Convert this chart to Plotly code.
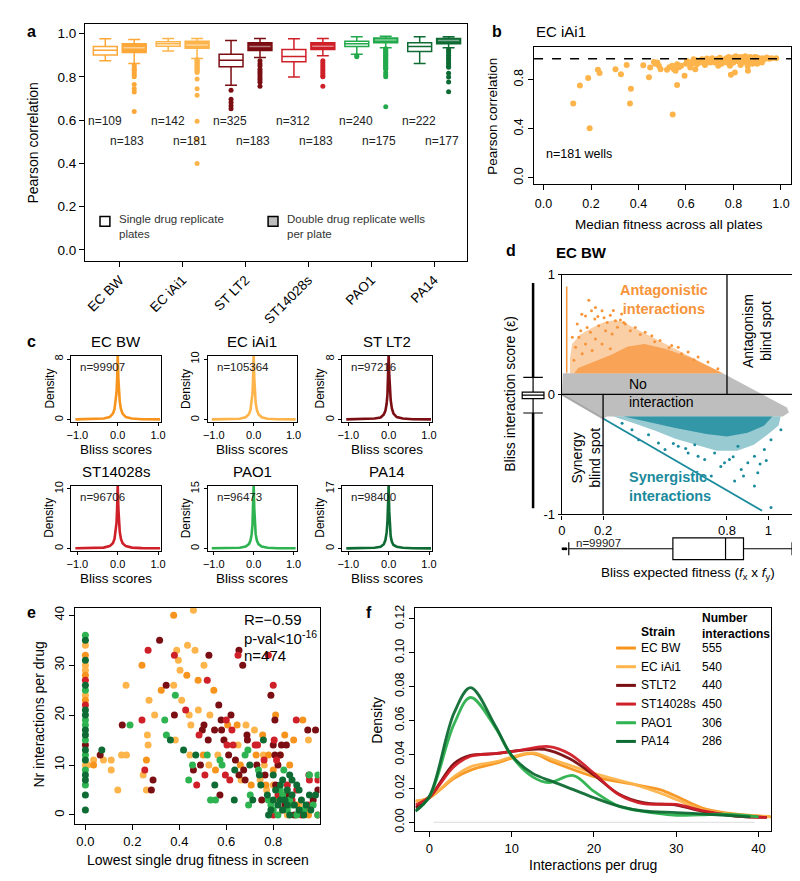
import plotly.graph_objects as go

W, H = 800, 881
FONT = "Liberation Sans, Arial, Helvetica, sans-serif"

# ======================= DATA =======================
strains = ["EC BW", "EC iAi1", "ST LT2", "ST14028s", "PAO1", "PA14"]
box_colors = ["#FBA839", "#FDB44B", "#7A0E12", "#CF2029", "#22A94B", "#0E6B33"]
strain_colors = ["#F7941D", "#FDB44B", "#7A0E12", "#CF2029", "#2DB34F", "#0E6B33"]

# panel a: [lower whisker, Q1, median, Q3, upper whisker]
single_stats = [
    [0.874, 0.901, 0.923, 0.940, 0.976],
    [0.920, 0.942, 0.953, 0.962, 0.977],
    [0.761, 0.847, 0.877, 0.905, 0.968],
    [0.799, 0.870, 0.894, 0.927, 0.976],
    [0.905, 0.940, 0.953, 0.965, 0.985],
    [0.862, 0.917, 0.940, 0.958, 0.985],
]
double_stats = [
    [0.862, 0.912, 0.935, 0.953, 0.973],
    [0.885, 0.932, 0.947, 0.965, 0.977],
    [0.889, 0.922, 0.940, 0.958, 0.977],
    [0.897, 0.927, 0.942, 0.958, 0.977],
    [0.935, 0.958, 0.970, 0.980, 0.988],
    [0.935, 0.953, 0.968, 0.977, 0.985],
]
single_out = [[], [], [0.738, 0.697, 0.682, 0.667, 0.653], [], [0.897, 0.893], []]
double_out = [
    [0.855, 0.845, 0.835, 0.830, 0.820, 0.810, 0.800, 0.765, 0.745, 0.730, 0.640],
    [0.880, 0.875, 0.870, 0.865, 0.860, 0.855, 0.850, 0.845, 0.840, 0.835, 0.830, 0.825, 0.820,
     0.790, 0.745, 0.715, 0.595, 0.510, 0.400],
    [0.875, 0.860, 0.850, 0.835, 0.825, 0.815, 0.805, 0.795, 0.785, 0.775, 0.757],
    [0.875, 0.865, 0.855, 0.845, 0.835, 0.825, 0.815, 0.805, 0.800, 0.756],
    [0.930, 0.925, 0.920, 0.915, 0.910, 0.905, 0.900, 0.895, 0.890, 0.885, 0.880, 0.875, 0.870,
     0.865, 0.860, 0.855, 0.850, 0.845, 0.840, 0.835, 0.820, 0.810, 0.800, 0.662],
    [0.927, 0.920, 0.910, 0.900, 0.890, 0.880, 0.870, 0.860, 0.850, 0.844, 0.817, 0.799, 0.776, 0.731],
]
single_n = [109, 142, 325, 312, 240, 222]
double_n = [183, 181, 183, 183, 175, 177]

# panel b: EC iAi1 wells
b_fit = [0.125, 0.153, 0.188, 0.194, 0.229, 0.236, 0.303, 0.326, 0.350, 0.364, 0.368, 0.420, 0.444,
         0.449, 0.465, 0.479, 0.486, 0.493, 0.542, 0.544, 0.549, 0.556, 0.563, 0.5625, 0.580, 0.594,
         0.604, 0.618, 0.625, 0.632, 0.639, 0.646, 0.653, 0.667, 0.681, 0.688, 0.701, 0.715, 0.729,
         0.736, 0.743, 0.750, 0.785, 0.789, 0.806, 0.861,
         0.76, 0.77, 0.78, 0.78, 0.79, 0.80, 0.80, 0.81, 0.81, 0.82, 0.82, 0.83, 0.83, 0.84, 0.84,
         0.85, 0.85, 0.86, 0.86, 0.87, 0.87, 0.88, 0.88, 0.89, 0.89, 0.90, 0.90, 0.91, 0.92, 0.93,
         0.94, 0.95, 0.96, 0.98, 0.77, 0.79, 0.83, 0.86, 0.90, 0.92, 0.70, 0.72, 0.74, 0.66, 0.68,
         0.62, 0.64, 0.60, 0.57, 0.53, 0.47, 0.52, 0.71, 0.73, 0.75, 0.845, 0.815, 0.835, 0.875, 0.895]
b_cor = [0.605, 0.752, 0.813, 0.405, 0.880, 0.853, 0.885, 0.843, 0.920, 0.605, 0.725, 0.917, 0.819,
         0.899, 0.944, 0.939, 0.912, 0.885, 0.912, 0.517, 0.885, 0.872, 0.925, 0.757, 0.912, 0.832,
         0.952, 0.899, 0.931, 0.965, 0.885, 0.925, 0.952, 0.965, 0.952, 0.973, 0.939, 0.957, 0.965,
         0.912, 0.979, 0.952, 0.912, 0.840, 0.859, 0.872,
         0.960, 0.975, 0.950, 0.985, 0.965, 0.940, 0.980, 0.960, 0.990, 0.950, 0.975, 0.985, 0.960,
         0.940, 0.970, 0.990, 0.955, 0.975, 0.940, 0.985, 0.960, 0.970, 0.930, 0.985, 0.950, 0.965,
         0.980, 0.955, 0.975, 0.965, 0.980, 0.970, 0.975, 0.975, 0.940, 0.930, 0.920, 0.910, 0.930,
         0.940, 0.960, 0.940, 0.970, 0.940, 0.920, 0.940, 0.960, 0.930, 0.900, 0.900, 0.930, 0.880,
         0.975, 0.950, 0.930, 0.985, 0.975, 0.950, 0.975, 0.970]
b_threshold = 0.97

# panel c: Bliss score densities
c_x = [-1.05, -0.6, -0.35, -0.2, -0.12, -0.08, -0.05, -0.03, -0.015, 0.0, 0.015, 0.03, 0.05, 0.08,
       0.12, 0.2, 0.35, 0.6, 1.05]
c_ecbw = [0.05, 0.07, 0.15, 0.35, 0.8, 1.4, 2.4, 3.6, 5.5, 8.6, 5.5, 3.6, 2.4, 1.4, 0.8, 0.35, 0.15, 0.07, 0.05]
c_ecia = [0.05, 0.07, 0.15, 0.4, 0.9, 1.6, 2.8, 4.3, 6.8, 10.8, 6.8, 4.3, 2.8, 1.6, 0.9, 0.4, 0.15, 0.07, 0.05]
c_stlt2 = [0.05, 0.07, 0.15, 0.3, 0.7, 1.2, 2.1, 3.3, 5.2, 8.6, 6.0, 4.0, 2.6, 1.5, 0.8, 0.35, 0.15, 0.07, 0.05]
c_st14 = [0.05, 0.07, 0.15, 0.4, 0.9, 1.6, 2.8, 4.3, 6.8, 10.8, 6.8, 4.3, 2.8, 1.6, 0.9, 0.4, 0.15, 0.07, 0.05]
c_pao1 = [0.05, 0.08, 0.2, 0.5, 1.1, 2.0, 3.6, 6.0, 10.0, 16.0, 10.0, 6.0, 3.6, 2.0, 1.1, 0.5, 0.2, 0.08, 0.05]
c_pa14 = [0.05, 0.08, 0.2, 0.5, 1.2, 2.4, 4.5, 7.5, 12.5, 18.0, 10.5, 6.0, 3.5, 1.9, 1.0, 0.5, 0.2, 0.08, 0.05]
c_n = [99907, 105364, 97216, 96706, 96473, 98400]
c_ymax = [8, 10, 8, 10, 15, 17]

# panel d: EC BW Bliss landscape (cloud outlines and sparse points)
gray_w = [0.005, 0.78, 1.09, 1.10, 1.07, 0.22, 0.20, 0.0]
gray_eps = [0.176, 0.176, -0.11, -0.15, -0.185, -0.185, -0.20, 0.0]
ant_outer_w = [0.04, 0.78, 0.30, 0.26, 0.20, 0.14, 0.09, 0.05, 0.04]
ant_outer_eps = [0.176, 0.176, 0.60, 0.62, 0.60, 0.55, 0.50, 0.42, 0.30]
ant_core_w = [0.06, 0.78, 0.62, 0.50, 0.40, 0.32, 0.24, 0.15, 0.08]
ant_core_eps = [0.176, 0.176, 0.31, 0.38, 0.42, 0.40, 0.33, 0.27, 0.22]
ant_pts_w = [0.131, 0.097, 0.115, 0.144, 0.163, 0.195, 0.16, 0.075, 0.051, 0.092, 0.123, 0.139, 0.179,
             0.212, 0.244, 0.26, 0.284, 0.308, 0.332, 0.356, 0.404, 0.436, 0.476, 0.532, 0.564, 0.612,
             0.66, 0.708, 0.756, 0.067, 0.099, 0.147, 0.059, 0.195, 0.235, 0.163, 0.115, 0.083, 0.30,
             0.38, 0.45, 0.52, 0.58, 0.64, 0.22, 0.27, 0.235, 0.205, 0.175, 0.25, 0.29]
ant_pts_eps = [0.785, 0.669, 0.655, 0.697, 0.724, 0.697, 0.628, 0.587, 0.476, 0.532, 0.559, 0.518,
               0.573, 0.532, 0.504, 0.614, 0.62, 0.587, 0.532, 0.559, 0.518, 0.49, 0.449, 0.408, 0.394,
               0.353, 0.312, 0.27, 0.215, 0.394, 0.339, 0.366, 0.284, 0.421, 0.38, 0.462, 0.421, 0.476,
               0.60, 0.50, 0.44, 0.39, 0.34, 0.29, 0.60, 0.56, 0.66, 0.64, 0.65, 0.70, 0.67]
ant_streak_w = [0.024, 0.024]
ant_streak_eps = [0.18, 0.90]
syn_outer_w = [0.25, 1.06, 1.05, 1.00, 0.93, 0.85, 0.75, 0.65, 0.55, 0.45, 0.35]
syn_outer_eps = [-0.185, -0.185, -0.26, -0.33, -0.42, -0.47, -0.47, -0.42, -0.37, -0.30, -0.24]
syn_core_w = [0.30, 1.02, 0.98, 0.90, 0.80, 0.70, 0.55, 0.42]
syn_core_eps = [-0.185, -0.185, -0.26, -0.32, -0.35, -0.33, -0.28, -0.23]
syn_pts_w = [0.34, 0.372, 0.468, 0.5, 0.564, 0.612, 0.66, 0.692, 0.74, 0.788, 0.812, 0.837, 0.869,
             0.901, 0.933, 0.949, 0.981, 1.013, 1.061, 1.013, 0.933, 0.724, 0.42, 0.292, 0.853, 0.644,
             0.77, 0.83, 0.88, 0.96, 0.99, 0.60, 0.54]
syn_pts_eps = [-0.295, -0.378, -0.405, -0.46, -0.433, -0.488, -0.515, -0.543, -0.488, -0.57, -0.543,
               -0.722, -0.626, -0.57, -0.515, -0.653, -0.46, -0.378, -0.295, -0.942, -0.763, -0.68,
               -0.337, -0.24, -0.433, -0.42, -0.60, -0.52, -0.68, -0.58, -0.55, -0.45, -0.41]
syn_line_w = [0.2, 0.97]
syn_line_eps = [-0.2, -0.97]
gray_line_w = [0.0, 0.2]
gray_line_eps = [0.0, -0.2]
d_split_w = [0.2, 0.8]
eps_box = [-0.155, -0.035, -0.005, 0.02, 0.143]
eps_out_hi = [0.143, 0.93]
eps_out_lo = [-0.155, -0.95]
fit_box = [0.034, 0.538, 0.793, 0.88, 1.115]
fit_out = [0.0, 0.01, 0.02]
d_n = 99907

# panel e: lowest single drug fitness vs interactions per drug
e_ecbw_x = [0, 0, 0, 0.035, 0.241, 0.26, 0.323, 0.376, 0.432, 0.48, 0.502, 0.547, 0.554, 0.606, 0.646,
            0.66, 0.706, 0.727, 0.755, 0.769, 0.78, 0.80, 0.81, 0.849, 0.85, 0.87, 0.887, 0.90, 0.926, 0.95]
e_ecbw_y = [32, 28, 23, 10, 30, 11, 25, 40, 28, 27, 12, 25, 9, 18, 18, 10, 6, 12, 16, 6, 12, 9, 20, 16,
            4, 10, 15, 2, 19, 0]
e_ecia_x = [0, 0, 0, 0, 0, 0.01, 0.035, 0.077, 0.11, 0.11, 0.138, 0.154, 0.173, 0.175, 0.246, 0.264,
            0.267, 0.26, 0.271, 0.295, 0.376, 0.383, 0.389, 0.396, 0.403, 0.41, 0.435, 0.442, 0.445,
            0.449, 0.46, 0.467, 0.481, 0.505, 0.526, 0.53, 0.564, 0.65, 0.663, 0.684, 0.72, 0.744,
            0.758, 0.762, 0.772, 0.80, 0.82, 0.83, 0.86, 0.91, 0.94, 0.95]
e_ecia_y = [34, 30, 29, 24, 10, 10, 11, 11, 11, 9, 5, 12, 26, 12, 8, 16, 14, 5, 23, 20, 26, 15, 33, 31,
            29, 23, 34, 20, 12, 18, 41, 33, 21, 30, 10, 20, 12, 14, 7, 18, 17, 7, 12, 10, 5, 6, 3, 12,
            0, 2, 1, 15]
e_stlt2_x = [0, 0.063, 0.157, 0.281, 0.288, 0.316, 0.344, 0.379, 0.46, 0.49, 0.498, 0.505, 0.523,
             0.526, 0.55, 0.568, 0.573, 0.578, 0.58, 0.59, 0.61, 0.62, 0.639, 0.654, 0.654, 0.67,
             0.674, 0.68, 0.688, 0.69, 0.73, 0.751, 0.765, 0.79, 0.807, 0.80, 0.807, 0.83, 0.82,
             0.835, 0.856, 0.947, 0.952, 0.98, 0.85, 0.89, 0.93, 0.97, 0.81, 0.86, 0.99]
e_stlt2_y = [14, 12, 18, 5, 7, 35, 26, 20, 9, 10, 17, 18, 15, 32, 17, 22, 4, 19, 17, 15, 12, 20, 11,
             33, 8, 30, 9, 7, 16, 15, 10, 3, 8, 24, 19, 14, 12, 12, 10, 14, 14, 17, 8, 17, 2, 0, 1,
             3, 6, 4, 5]
e_st14_x = [0, 0, 0.241, 0.253, 0.267, 0.379, 0.427, 0.474, 0.484, 0.509, 0.519, 0.596, 0.60, 0.603,
            0.615, 0.624, 0.629, 0.65, 0.723, 0.733, 0.761, 0.779, 0.80, 0.804, 0.814, 0.898, 0.954,
            0.99, 0.99, 0.84, 0.88, 0.92, 0.95, 0.82, 0.86, 0.80, 0.90]
e_st14_y = [27, 22, 19, 9, 33, 32, 21, 6, 16, 8, 27, 8, 19, 14, 7, 17, 14, 32, 14, 14, 11, 32, 26, 15,
            11, 19, 7, 7, 0, 1, 3, 0, 2, 4, 6, 0, 5]
e_pao1_x = [0, 0, 0, 0, 0, 0, 0, 0, 0.19, 0.338, 0.345, 0.383, 0.44, 0.456, 0.519, 0.533, 0.554, 0.573,
            0.582, 0.68, 0.692, 0.695, 0.702, 0.737, 0.779, 0.845, 0.954, 0.80, 0.82, 0.86, 0.88,
            0.90, 0.93, 0.97, 0.99, 0.83, 0.87, 0.99, 0.79, 0.84]
e_pao1_y = [36, 25, 19, 18, 15, 12, 9, 6, 18, 19, 16, 24, 7, 10, 12, 3, 3, 11, 10, 12, 13, 2, 4, 9, 3,
            9, 8, 1, 0, 1, 2, 0, 1, 2, 0, 5, 3, 8, 2, 4]
e_pa14_x = [0, 0, 0, 0, 0, 0, 0, 0, 0, 0, 0, 0, 0, 0.07, 0.362, 0.418, 0.47, 0.551, 0.634, 0.636, 0.70,
            0.713, 0.741, 0.747, 0.758, 0.775, 0.88, 0.954, 0.78, 0.80, 0.81, 0.82, 0.83, 0.84, 0.85,
            0.86, 0.87, 0.88, 0.89, 0.90, 0.91, 0.92, 0.93, 0.94, 0.96, 0.98, 0.80, 0.84, 0.87, 0.91,
            0.79, 0.83, 0.86]
e_pa14_y = [35, 31, 26, 21, 20, 17, 16, 13, 11, 8, 7, 4, 1, 13, 15, 13, 12, 6, 3, 9, 10, 3, 8, 6, 15,
            4, 7, 4, 0, 3, 5, 2, 6, 1, 3, 5, 0, 4, 2, 6, 1, 3, 0, 2, 1, 4, 8, 7, 8, 5, 1, 3, 2]
e_stats = ["R=\u22120.59", "p-val&lt;10<sup>-16</sup>", "n=474"]

# panel f: density of interactions per drug
f_names = ["EC BW", "EC iAi1", "STLT2", "ST14028s", "PAO1", "PA14"]
f_counts = [555, 540, 440, 450, 306, 286]
f_ecbw_x = [-1.7, 0, 3, 5, 8, 12.5, 15, 20, 25, 28, 30, 33, 36, 41.5]
f_ecbw_y = [0.0125, 0.0145, 0.026, 0.0308, 0.0347, 0.0405, 0.0356, 0.027, 0.0222, 0.0193, 0.0154,
            0.0087, 0.0056, 0.0033]
f_ecia_x = [-1.7, 0, 3, 5, 8, 12.5, 15, 20, 25, 28, 30, 33, 36, 41.5]
f_ecia_y = [0.0125, 0.0145, 0.027, 0.0328, 0.0356, 0.041, 0.037, 0.0289, 0.0222, 0.0173, 0.0135,
            0.0077, 0.0052, 0.0033]
f_stlt2_x = [-1.7, 0, 3, 5, 8, 11, 14, 17, 20, 23, 26, 30, 33, 37, 41]
f_stlt2_y = [0.0087, 0.0145, 0.0347, 0.0395, 0.0405, 0.0424, 0.043, 0.0376, 0.0279, 0.0168, 0.0116,
             0.0102, 0.0067, 0.0039, 0.0029]
f_st14_x = [-1.7, 0, 3, 5, 8, 11, 14.5, 17, 20, 23, 26, 30, 33, 37, 41]
f_st14_y = [0.0102, 0.015, 0.033, 0.039, 0.0405, 0.0424, 0.0447, 0.0405, 0.0289, 0.0164, 0.011,
            0.0106, 0.0071, 0.0039, 0.0029]
f_pao1_x = [-1.7, 0, 3, 5, 8, 10, 12.5, 14.5, 17.5, 20, 23, 26, 28, 30, 33, 36, 40]
f_pao1_y = [0.0067, 0.015, 0.058, 0.0736, 0.056, 0.039, 0.027, 0.0235, 0.0276, 0.0183, 0.0096,
            0.0065, 0.0052, 0.0042, 0.0045, 0.0048, 0.0033]
f_pa14_x = [-1.7, 0, 3, 5, 8, 10, 12.5, 15, 17.5, 20, 23, 26, 30, 33, 36, 39]
f_pa14_y = [0.0067, 0.0154, 0.0645, 0.0794, 0.057, 0.0395, 0.029, 0.024, 0.0193, 0.0145, 0.0096,
            0.0067, 0.0058, 0.005, 0.0042, 0.0033]
f_base_x = [0.5, 39.5]
f_base_y = [0, 0]


# ======================= HELPERS =======================
def xd(l, r):
    return [l / W, r / W]


def yd(t, b):
    return [1 - b / H, 1 - t / H]


def px(x):
    return x / W


def py(y):
    return 1 - y / H


def frame_axis(domain, anchor, rng, **kw):
    d = dict(domain=domain, anchor=anchor, range=rng, showline=True, mirror=True,
             linecolor="black", linewidth=1.3, ticks="outside", ticklen=4, tickwidth=1.2,
             tickcolor="black", showgrid=False, zeroline=False, fixedrange=True,
             tickfont=dict(size=12, color="#111"))
    d.update(kw)
    return d


def hidden_axis(domain, anchor, rng):
    return dict(domain=domain, anchor=anchor, range=rng, visible=False, fixedrange=True,
                showgrid=False, zeroline=False, showticklabels=False)


annotations = []
shapes = []


def ann(text, x, y, size=12, xanchor="center", yanchor="middle", color="black", angle=0,
        bold=False, align="center", xref="paper", yref="paper"):
    if bold:
        text = "<b>" + text + "</b>"
    annotations.append(dict(text=text, x=px(x) if xref == "paper" else x,
                            y=py(y) if yref == "paper" else y, xref=xref, yref=yref,
                            xanchor=xanchor, yanchor=yanchor, showarrow=False, textangle=angle,
                            align=align, font=dict(size=size, color=color, family=FONT)))


traces = []
layout = dict(width=W, height=H, margin=dict(l=0, r=0, t=0, b=0), paper_bgcolor="white",
              plot_bgcolor="white", showlegend=False, boxmode="overlay",
              font=dict(family=FONT, size=12, color="black"))

# ======================= PANEL A =======================
layout["xaxis"] = frame_axis(xd(73, 459), "y", [0.45, 6.52], tickvals=list(range(1, 7)),
                             ticktext=strains, tickangle=-45, tickfont=dict(size=13.5), ticklen=5)
layout["yaxis"] = frame_axis(yd(9, 250), "x", [-0.05, 1.045], tickvals=[0, 0.2, 0.4, 0.6, 0.8, 1.0],
                             ticktext=["0.0", "0.2", "0.4", "0.6", "0.8", "1.0"],
                             tickfont=dict(size=13.5), ticklen=5)
BW = 0.38
for i, s in enumerate(strains):
    c = box_colors[i]
    for stats, outs, off, filled in ((single_stats[i], single_out[i], -0.23, False),
                                     (double_stats[i], double_out[i], 0.23, True)):
        pos = i + 1 + off
        lf, q1, med, q3, uf = stats
        traces.append(go.Box(x=[pos], lowerfence=[lf], q1=[q1], median=[med], q3=[q3],
                             upperfence=[uf], width=BW, orientation="v", boxpoints=False,
                             whiskerwidth=0.5, fillcolor=c if filled else "white",
                             line=dict(color=c, width=1.5), xaxis="x", yaxis="y",
                             hoverinfo="skip"))
        if filled:
            traces.append(go.Scatter(x=[pos - BW / 2 + 0.02, pos + BW / 2 - 0.02], y=[med, med],
                                     mode="lines", line=dict(color="rgba(255,255,255,0.45)", width=1.5),
                                     xaxis="x", yaxis="y", hoverinfo="skip"))
        if outs:
            traces.append(go.Scatter(x=[pos] * len(outs), y=outs, mode="markers",
                                     marker=dict(size=5, color=c), xaxis="x", yaxis="y",
                                     hoverinfo="skip"))
    ann("n=%d" % single_n[i], i + 1 - 0.24, 0.595, size=12, color="#222", xref="x", yref="y")
    ann("n=%d" % double_n[i], i + 1 + 0.12, 0.505, size=12, color="#222", xref="x", yref="y")

ann("Pearson correlation", 20, 130, size=14, angle=-90)
shapes.append(dict(type="rect", xref="paper", yref="paper", x0=px(88), x1=px(98), y0=py(215),
                   y1=py(205), line=dict(color="black", width=1.5), fillcolor="white"))
shapes.append(dict(type="rect", xref="paper", yref="paper", x0=px(258), x1=px(268), y0=py(215),
                   y1=py(205), line=dict(color="black", width=1.5), fillcolor="#BDBDBD"))
ann("Single drug replicate<br>plates", 105, 215, size=11.5, xanchor="left", align="left",
    color="#333")
ann("Double drug replicate wells<br>per plate", 275, 215, size=11.5, xanchor="left",
    align="left", color="#333")

# ======================= PANEL B =======================
layout["xaxis2"] = frame_axis(xd(527, 787), "y2", [-0.04, 1.043],
                              tickvals=[0, 0.2, 0.4, 0.6, 0.8, 1.0],
                              ticktext=["0.0", "0.2", "0.4", "0.6", "0.8", "1.0"],
                              tickfont=dict(size=12.5), ticklen=5, ticklabelstandoff=3)
layout["yaxis2"] = frame_axis(yd(33, 172), "x2", [-0.05, 1.062], tickvals=[0, 0.4, 0.8],
                              ticktext=["0.0", "0.4", "0.8"], tickangle=-90,
                              tickfont=dict(size=12.5), ticklen=5)
traces.append(go.Scatter(x=b_fit, y=b_cor, mode="markers", marker=dict(size=6, color="#FDB44B"),
                         xaxis="x2", yaxis="y2", hoverinfo="skip"))
shapes.append(dict(type="line", xref="x2 domain", yref="y2", x0=0, x1=1, y0=b_threshold,
                   y1=b_threshold, line=dict(color="black", width=1.4, dash="dash")))
ann("EC iAi1", 527, 17, size=15, xanchor="left")
ann("n=181 wells", 537, 141, size=12.5, xanchor="left")
ann("Pearson correlation", 485, 103, size=13.5, angle=-90)
ann("Median fitness across all plates", 663, 213, size=13.5)

# ======================= PANEL C =======================
c_series = [c_ecbw, c_ecia, c_stlt2, c_st14, c_pao1, c_pa14]
cols = [(59, 150), (197, 287), (333, 424)]
rows = [(347, 414), (479, 545)]
for k in range(6):
    r, cc = divmod(k, 3)
    ax = k + 3
    (l, rr), (t, b) = cols[cc], rows[r]
    M = c_ymax[k]
    layout["xaxis%d" % ax] = frame_axis(xd(l, rr), "y%d" % ax, [-1.15, 1.08], tickvals=[-1, 0, 1],
                                        ticktext=["\u22121.0", "0.0", "1.0"],
                                        tickfont=dict(size=11), ticklen=3)
    layout["yaxis%d" % ax] = frame_axis(yd(t, b), "x%d" % ax, [-0.037 * M, 1.05 * M],
                                        tickvals=[0, M], ticktext=["0", str(M)], tickangle=-90,
                                        tickfont=dict(size=11), ticklen=3)
    traces.append(go.Scatter(x=c_x, y=c_series[k], mode="lines",
                             line=dict(color=strain_colors[k], width=2.6),
                             xaxis="x%d" % ax, yaxis="y%d" % ax, hoverinfo="skip"))
    ann(strains[k], (l + rr) / 2, t - 15, size=15)
    ann("Bliss scores", (l + rr) / 2, b + 28, size=13.5)
    ann("Density", l - 22, (t + b) / 2, size=12, angle=-90)
    ann("n=%d" % c_n[k], l + 7, t + 11, size=11.5, xanchor="left", color="#222")

# ======================= PANEL D =======================
layout["xaxis9"] = frame_axis(xd(555, 790), "y9", [0, 1.125], tickvals=[0, 0.2, 0.8, 1],
                              ticktext=["0", "0.2", "0.8", "1"], tickfont=dict(size=13),
                              ticklen=4)
layout["yaxis9"] = frame_axis(yd(264, 508), "x9", [-1, 1], tickvals=[-1, 0, 1],
                              ticktext=["-1", "0", "1"], tickfont=dict(size=13), ticklen=3)
layout["xaxis10"] = hidden_axis(xd(510, 542), "y9", [-1, 1])
layout["yaxis10"] = hidden_axis(yd(526, 560), "x9", [-1, 1])

GRAY, ORANGE, TEAL = "#BEBEBE", "#F7943A", "#1A8A9C"


def poly(xs, ys, col):
    traces.append(go.Scatter(x=xs, y=ys, mode="lines", fill="toself", fillcolor=col,
                             line=dict(width=0, color=col), xaxis="x9", yaxis="y9",
                             hoverinfo="skip"))


poly(gray_w, gray_eps, GRAY)
poly(ant_outer_w, ant_outer_eps, "rgba(247,148,58,0.45)")
poly(ant_core_w, ant_core_eps, "rgba(247,148,58,0.75)")
traces.append(go.Scatter(x=ant_pts_w, y=ant_pts_eps, mode="markers",
                         marker=dict(size=3, color=ORANGE), xaxis="x9", yaxis="y9",
                         hoverinfo="skip"))
traces.append(go.Scatter(x=ant_streak_w, y=ant_streak_eps, mode="lines",
                         line=dict(color=ORANGE, width=1.5), xaxis="x9", yaxis="y9",
                         hoverinfo="skip"))
poly(syn_outer_w, syn_outer_eps, "rgba(26,138,156,0.45)")
poly(syn_core_w, syn_core_eps, "rgba(26,138,156,0.8)")
traces.append(go.Scatter(x=syn_pts_w, y=syn_pts_eps, mode="markers",
                         marker=dict(size=3, color=TEAL), xaxis="x9", yaxis="y9",
                         hoverinfo="skip"))
traces.append(go.Scatter(x=syn_line_w, y=syn_line_eps, mode="lines",
                         line=dict(color=TEAL, width=1.8), xaxis="x9", yaxis="y9",
                         hoverinfo="skip"))
traces.append(go.Scatter(x=gray_line_w, y=gray_line_eps, mode="lines",
                         line=dict(color="#A8A8A8", width=2), xaxis="x9", yaxis="y9",
                         hoverinfo="skip"))
# region separators
shapes.append(dict(type="line", xref="x9", yref="y9", x0=0, x1=1.125, y0=0, y1=0,
                   line=dict(color="black", width=1.3), layer="above"))
shapes.append(dict(type="line", xref="x9", yref="y9", x0=d_split_w[0], x1=d_split_w[0], y0=-1,
                   y1=0, line=dict(color="black", width=1.3), layer="above"))
shapes.append(dict(type="line", xref="x9", yref="y9", x0=d_split_w[1], x1=d_split_w[1], y0=0,
                   y1=1, line=dict(color="black", width=1.3), layer="above"))
# side boxplot of interaction scores
traces.append(go.Scatter(x=[0, 0], y=eps_out_hi, mode="lines", line=dict(color="black", width=2.5),
                         xaxis="x10", yaxis="y9", hoverinfo="skip"))
traces.append(go.Scatter(x=[0, 0], y=eps_out_lo, mode="lines", line=dict(color="black", width=2.5),
                         xaxis="x10", yaxis="y9", hoverinfo="skip"))
traces.append(go.Box(x=[0], lowerfence=[eps_box[0]], q1=[eps_box[1]], median=[eps_box[2]],
                     q3=[eps_box[3]], upperfence=[eps_box[4]], width=1.375, orientation="v",
                     boxpoints=False, whiskerwidth=0.9, fillcolor="white",
                     line=dict(color="black", width=1.2), xaxis="x10", yaxis="y9",
                     hoverinfo="skip"))
# bottom boxplot of expected fitness
traces.append(go.Box(y=[0], lowerfence=[fit_box[0]], q1=[fit_box[1]], median=[fit_box[2]],
                     q3=[fit_box[3]], upperfence=[fit_box[4]], width=1.3, orientation="h",
                     boxpoints=False, whiskerwidth=0.6, fillcolor="white",
                     line=dict(color="black", width=1.2), xaxis="x9", yaxis="y10",
                     hoverinfo="skip"))
traces.append(go.Scatter(x=fit_out, y=[0] * len(fit_out), mode="markers",
                         marker=dict(size=3, color="black"), xaxis="x9", yaxis="y10",
                         hoverinfo="skip"))
ann("EC BW", 547, 242, size=15, xanchor="left", bold=True)
ann("Antagonistic<br>interactions", 658, 289, size=14.5, color=ORANGE, bold=True)
ann("Antagonism<br>blind spot", 752, 322, size=14, angle=-90)
ann("No<br>interaction", 621, 385, size=14, xanchor="left", align="left")
ann("Synergy<br>blind spot", 580, 450, size=14, angle=-90)
ann("Synergistic<br>interactions", 621, 480, size=14.5, color=TEAL, bold=True, xanchor="left",
    align="left")
ann("n=%d" % d_n, 567, 537, size=11.5, xanchor="left", color="#222")
ann("Bliss interaction score (\u03b5)", 503, 385, size=14, angle=-90)
ann("Bliss expected fitness (<i>f</i><sub>x</sub> x <i>f</i><sub>y</sub>)", 683, 568, size=13.5)

# ======================= PANEL E =======================
layout["xaxis11"] = frame_axis(xd(63, 310), "y11", [-0.043, 0.997],
                               tickvals=[0, 0.2, 0.4, 0.6, 0.8],
                               ticktext=["0.0", "0.2", "0.4", "0.6", "0.8"],
                               tickfont=dict(size=13), ticklen=5)
layout["yaxis11"] = frame_axis(yd(603, 823), "x11", [-1.8, 41.5], tickvals=[0, 10, 20, 30, 40],
                               tickangle=-90, tickfont=dict(size=13), ticklen=5)
e_sets = [(e_ecia_x, e_ecia_y, 1), (e_ecbw_x, e_ecbw_y, 0), (e_stlt2_x, e_stlt2_y, 2),
          (e_st14_x, e_st14_y, 3), (e_pao1_x, e_pao1_y, 4), (e_pa14_x, e_pa14_y, 5)]
for xs, ys, k in e_sets:
    traces.append(go.Scatter(x=xs, y=ys, mode="markers",
                             marker=dict(size=7, color=strain_colors[k]), xaxis="x11",
                             yaxis="y11", hoverinfo="skip"))
for j, t in enumerate(e_stats):
    ann(t, 232, 615 + j * 18.5, size=15, xanchor="left")
ann("Nr interactions per drug", 26, 712, size=14, angle=-90)
ann("Lowest single drug fitness in screen", 187, 860, size=14)

# ======================= PANEL F =======================
layout["xaxis12"] = frame_axis(xd(407, 767), "y12", [-1.7, 41.56], tickvals=[0, 10, 20, 30, 40],
                               tickfont=dict(size=13), ticklen=5)
layout["yaxis12"] = frame_axis(yd(603, 830), "x12", [-0.005, 0.1265],
                               tickvals=[0, 0.02, 0.04, 0.06, 0.08, 0.10, 0.12],
                               ticktext=["0.00", "0.02", "0.04", "0.06", "0.08", "0.10", "0.12"],
                               tickangle=-90, tickfont=dict(size=12.5), ticklen=5)
traces.append(go.Scatter(x=f_base_x, y=f_base_y, mode="lines", line=dict(color="#E2E2E2", width=1.2),
                         xaxis="x12", yaxis="y12", hoverinfo="skip"))
f_sets = [(f_ecbw_x, f_ecbw_y, 0), (f_ecia_x, f_ecia_y, 1), (f_stlt2_x, f_stlt2_y, 2),
          (f_st14_x, f_st14_y, 3), (f_pao1_x, f_pao1_y, 4), (f_pa14_x, f_pa14_y, 5)]
for xs, ys, k in f_sets:
    traces.append(go.Scatter(x=xs, y=ys, mode="lines",
                             line=dict(color=strain_colors[k], width=2.8, shape="spline",
                                       smoothing=1.0),
                             opacity=0.95, xaxis="x12", yaxis="y12", hoverinfo="skip"))
ann("Strain", 633, 628, size=12, xanchor="left", bold=True)
ann("Number<br>interactions", 695, 622, size=12, xanchor="left", align="left", bold=True)
for k in range(6):
    yy = 644 + k * 19
    shapes.append(dict(type="line", xref="paper", yref="paper", x0=px(610), x1=px(630), y0=py(yy),
                       y1=py(yy), line=dict(color=strain_colors[k], width=3)))
    ann(f_names[k], 633, yy, size=12, xanchor="left")
    ann(str(f_counts[k]), 695, yy, size=12, xanchor="left")
ann("Density", 368, 717, size=14, angle=-90)
ann("Interactions per drug", 587, 865, size=14)

# ======================= PANEL LABELS =======================
for lab, x, y in (("a", 12, 17), ("b", 482, 17), ("c", 12, 332), ("d", 497, 240), ("e", 12, 608),
                  ("f", 355, 608)):
    ann(lab, x, y, size=16, bold=True, xanchor="left")

layout["annotations"] = annotations
layout["shapes"] = shapes
fig = go.Figure(data=traces, layout=layout)
fig.write_html("out.html")
